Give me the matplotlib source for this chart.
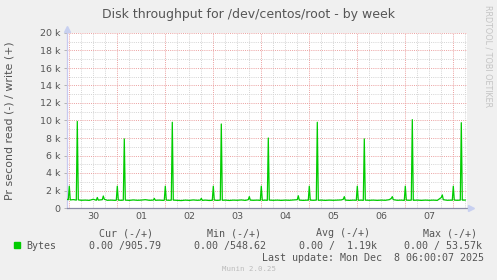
import matplotlib
matplotlib.use("Agg")
import matplotlib.pyplot as plt
from matplotlib.patches import Rectangle

# ---- data (hours relative to Mon Dec 8 00:00, write bytes/s) ----
hours = [
    -193.0, -192.5, -192.0, -191.5, -190.0, -188.5, -188.0, -187.5, -186.0, -184.0, -182.0, -180.0, -178.5, -178.0, -177.5, -175.5, -175.0, -174.5, -173.0, -171.0, -169.0, -168.5,
    -168.0, -167.5, -166.0, -165.0, -164.5, -164.0, -162.0, -160.0, -158.0, -156.0, -154.0, -152.0, -150.0, -149.5, -149.0, -147.0, -145.0, -144.5,
    -144.0, -143.5, -142.0, -141.0, -140.5, -140.0, -138.0, -136.0, -134.0, -132.0, -130.0, -128.0, -126.5, -126.0, -125.5, -124.0, -122.0, -120.5,
    -120.0, -119.5, -118.0, -116.5, -116.0, -115.5, -114.0, -112.0, -110.0, -108.0, -106.0, -104.0, -102.5, -102.0, -101.5, -100.0, -98.0, -96.5,
    -96.0, -95.5, -94.0, -93.0, -92.5, -92.0, -90.0, -88.0, -86.0, -84.0, -82.0, -80.0, -78.0, -77.5, -77.0, -75.0, -73.0, -72.5,
    -72.0, -71.5, -70.0, -68.5, -68.0, -67.5, -66.0, -64.0, -62.0, -60.0, -58.0, -56.0, -55.0, -54.5, -54.0, -52.0, -50.0, -48.5,
    -48.0, -47.5, -46.0, -45.0, -44.5, -44.0, -42.0, -40.0, -38.0, -36.0, -34.0, -32.0, -31.0, -30.5, -30.0, -28.0, -26.0, -24.5,
    -24.0, -23.5, -22.0, -21.0, -20.5, -20.0, -18.0, -16.0, -14.0, -12.0, -10.0, -8.0, -6.0, -5.5, -5.0, -3.0, -1.0, -0.5,
    0.0, 0.5, 2.0, 3.5, 4.0, 4.5, 6.0,
]
write_bps = [
    980, 950, 2500, 920, 960, 900, 9900, 930, 880, 900, 870, 1000, 880, 1200, 900, 950, 1370, 1000, 880, 900, 870, 900,
    2500, 900, 880, 900, 7900, 900, 870, 920, 880, 900, 950, 880, 900, 1100, 880, 900, 870, 900,
    2500, 900, 880, 900, 9800, 900, 880, 850, 900, 870, 920, 880, 900, 1100, 870, 900, 860, 880,
    2500, 900, 870, 900, 9600, 880, 900, 860, 900, 880, 920, 870, 950, 1300, 900, 880, 900, 870,
    2500, 880, 900, 870, 8000, 900, 880, 900, 870, 900, 880, 920, 950, 1400, 900, 870, 900, 880,
    2500, 900, 880, 900, 9800, 880, 900, 870, 900, 880, 900, 920, 1000, 1300, 900, 870, 900, 880,
    2500, 880, 900, 870, 7900, 900, 880, 900, 870, 900, 880, 950, 1100, 1300, 950, 880, 900, 870,
    2500, 900, 880, 900, 10100, 880, 900, 870, 900, 880, 900, 870, 1200, 1500, 950, 880, 900, 880,
    2500, 900, 880, 900, 9750, 900, 905,
]
day_labels = ["30", "01", "02", "03", "04", "05", "06", "07"]
day_noon_hours = [-180, -156, -132, -108, -84, -60, -36, -12]
y_ticks = [0, 2000, 4000, 6000, 8000, 10000, 12000, 14000, 16000, 18000, 20000]
y_tick_labels = ["0", "2 k", "4 k", "6 k", "8 k", "10 k", "12 k", "14 k", "16 k", "18 k", "20 k"]
legend_headers = ["Cur (-/+)", "Min (-/+)", "Avg (-/+)", "Max (-/+)"]
legend_values = ["0.00 /905.79", "0.00 /548.62", "0.00 /  1.19k", "0.00 / 53.57k"]

W, H = 497, 280
fig = plt.figure(figsize=(W / 100, H / 100), dpi=100, facecolor="#f0f0f0")

def fx(px):
    return px / W

def fy(py):
    return (H - py) / H

TXT = "#555555"
L, R, T, B = 67, 467, 33, 208
ax = fig.add_axes([fx(L), fy(B), (R - L) / W, (B - T) / H])
ax.set_facecolor("white")
ax.set_xlim(-193.15, 6.85)
ax.set_ylim(0, 20000)

# grid
red = "#eba0a0"
gray = "#d4d4d4"
dots = (0, (1, 1.2))
for y in range(1000, 20001, 1000):
    if y % 2000 == 0:
        ax.axhline(y, color=red, lw=0.7, ls=dots, zorder=1)
    else:
        ax.axhline(y, color=gray, lw=0.7, ls=dots, zorder=0.9)
for h in range(-192, 7, 6):
    if h % 24 == 0:
        ax.axvline(h, color=red, lw=0.7, ls=dots, zorder=1)
    else:
        ax.axvline(h, color=gray, lw=0.7, ls=dots, zorder=0.9)

ax.plot(hours, write_bps, color="#00cc00", lw=0.9, zorder=3)

# axes styling
for s in ["top", "right"]:
    ax.spines[s].set_visible(False)
ax.spines["left"].set_color("#c8c8f0")
ax.spines["left"].set_linewidth(0.9)
ax.spines["bottom"].set_color("#8a8aa6")
ax.spines["bottom"].set_linewidth(0.9)

ax.set_yticks(y_ticks)
ax.set_yticklabels(y_tick_labels)
ax.set_xticks(day_noon_hours)
ax.set_xticklabels(day_labels)
ax.tick_params(axis="y", length=2.5, width=0.6, color="#aaaaaa", pad=2.3,
               labelsize=6.8, labelcolor=TXT)
ax.tick_params(axis="x", length=0, pad=3.0, labelsize=6.8, labelcolor=TXT)

# arrows
fig.add_artist(plt.Line2D([fx(471)], [fy(208)], marker=">", ms=4, color="#c8d0f0",
                          mec="#c8d0f0", transform=fig.transFigure))
fig.add_artist(plt.Line2D([fx(67)], [fy(29)], marker="^", ms=4, color="#c8d0f0",
                          mec="#c8d0f0", transform=fig.transFigure))

# texts
fig.text(fx(248.7), fy(18.3), "Disk throughput for /dev/centos/root - by week",
         ha="center", va="baseline", fontsize=9, color=TXT)
fig.text(fx(10), fy(121), "Pr second read (-) / write (+)", rotation=90,
         ha="center", va="center", fontsize=7.9, color=TXT)
fig.text(fx(488), fy(56.5), "RRDTOOL / TOBI OETIKER", rotation=270,
         ha="center", va="center", fontsize=5.8, color="#c4c4c4")

mono = "DejaVu Sans Mono"
hdr_x = [98.7, 207.3, 315.7, 423.3]
val_x = [89.3, 194.3, 299.3, 404.3]
for x, t in zip(hdr_x, legend_headers):
    fig.text(fx(x), fy(233.3), t, ha="left", va="center", fontsize=7.2,
             family=mono, color=TXT)
fig.add_artist(Rectangle((fx(14), fy(248.3)), 6 / W, 6 / H, color="#00cc00",
                         transform=fig.transFigure))
fig.text(fx(26.7), fy(245.7), "Bytes", ha="left", va="center", fontsize=7.2,
         family=mono, color=TXT)
for x, t in zip(val_x, legend_values):
    fig.text(fx(x), fy(245.7), t, ha="left", va="center", fontsize=7.2,
             family=mono, color=TXT)
fig.text(fx(261.7), fy(257.7), "Last update: Mon Dec  8 06:00:07 2025",
         ha="left", va="center", fontsize=7.2, family=mono, color=TXT)
fig.text(fx(249), fy(269), "Munin 2.0.25", ha="center", va="center",
         fontsize=5.3, family=mono, color="#bbbbbb")

fig.savefig("out.png", dpi=100, facecolor=fig.get_facecolor())
